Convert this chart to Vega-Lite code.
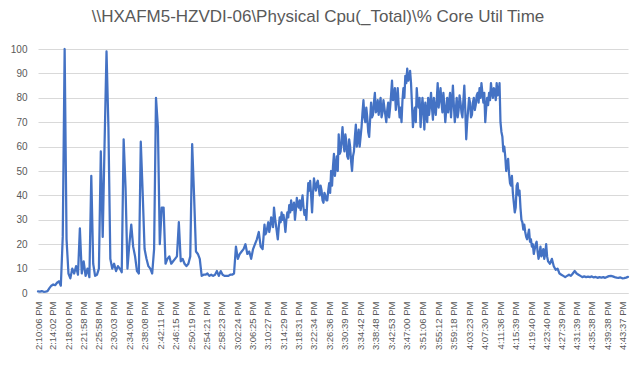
{
  "$schema": "https://vega.github.io/schema/vega-lite/v6.json",
  "width": 590,
  "height": 244,
  "autosize": {"type": "none"},
  "padding": {"left": 38, "top": 49, "right": 16, "bottom": 73},
  "background": "white",
  "config": {"view": {"stroke": null}},
  "title": {
    "text": "\\\\HXAFM5-HZVDI-06\\Physical Cpu(_Total)\\% Core Util Time",
    "font": "Liberation Sans",
    "fontSize": 17,
    "fontWeight": "normal",
    "color": "#595959",
    "anchor": "middle",
    "dx": -15,
    "offset": 18
  },
  "data": {
    "format": {"parse": {"t": "date:'%H:%M:%S'"}},
    "values": [
{"t":"14:10:06","v":0.7},{"t":"14:10:36","v":0.6},{"t":"14:11:06","v":0.8},{"t":"14:11:36","v":0.5},{"t":"14:12:06","v":0.6},{"t":"14:12:36","v":0.8},{"t":"14:13:06","v":2.0},{"t":"14:13:36","v":3.0},{"t":"14:14:06","v":3.5},{"t":"14:14:36","v":3.2},
{"t":"14:15:06","v":4.2},{"t":"14:15:36","v":4.8},{"t":"14:16:06","v":3.0},{"t":"14:16:36","v":23},{"t":"14:17:06","v":100},{"t":"14:17:36","v":22},{"t":"14:18:06","v":8},{"t":"14:18:36","v":6},{"t":"14:19:06","v":10},{"t":"14:19:36","v":8},
{"t":"14:20:06","v":11},{"t":"14:20:36","v":7.5},{"t":"14:21:06","v":26.5},{"t":"14:21:36","v":8},{"t":"14:22:06","v":13},{"t":"14:22:36","v":7},{"t":"14:23:06","v":10},{"t":"14:23:36","v":6.5},{"t":"14:24:06","v":48},{"t":"14:24:36","v":12},
{"t":"14:25:06","v":7},{"t":"14:25:36","v":7.5},{"t":"14:26:06","v":10},{"t":"14:26:36","v":58},{"t":"14:27:06","v":23},{"t":"14:27:36","v":62},{"t":"14:28:06","v":99},{"t":"14:28:36","v":68},{"t":"14:29:06","v":14},{"t":"14:29:36","v":10},
{"t":"14:30:06","v":12},{"t":"14:30:36","v":9},{"t":"14:31:06","v":11},{"t":"14:31:36","v":10},{"t":"14:32:06","v":8.5},{"t":"14:32:36","v":63},{"t":"14:33:06","v":43},{"t":"14:33:36","v":10},{"t":"14:34:06","v":20},{"t":"14:34:36","v":28},
{"t":"14:35:06","v":19},{"t":"14:35:36","v":15},{"t":"14:36:06","v":9},{"t":"14:36:36","v":8},{"t":"14:37:06","v":62},{"t":"14:37:36","v":41},{"t":"14:38:06","v":18},{"t":"14:38:36","v":14},{"t":"14:39:06","v":11},{"t":"14:39:36","v":10},
{"t":"14:40:06","v":8},{"t":"14:40:36","v":18},{"t":"14:41:06","v":80},{"t":"14:41:36","v":68},{"t":"14:42:06","v":20},{"t":"14:42:36","v":35},{"t":"14:43:06","v":35},{"t":"14:43:36","v":12},{"t":"14:44:06","v":14},{"t":"14:44:36","v":15},
{"t":"14:45:06","v":12},{"t":"14:45:36","v":13},{"t":"14:46:06","v":14},{"t":"14:46:36","v":15},{"t":"14:47:06","v":29},{"t":"14:47:36","v":13},{"t":"14:48:06","v":14},{"t":"14:48:36","v":12},{"t":"14:49:06","v":11},{"t":"14:49:36","v":12},
{"t":"14:50:06","v":15},{"t":"14:50:36","v":61},{"t":"14:51:06","v":40},{"t":"14:51:36","v":17},{"t":"14:52:06","v":16},{"t":"14:52:36","v":14},{"t":"14:53:06","v":7},{"t":"14:53:36","v":7.5},{"t":"14:54:06","v":7.5},{"t":"14:54:36","v":8},
{"t":"14:55:06","v":7},{"t":"14:55:36","v":7.5},{"t":"14:56:06","v":7},{"t":"14:56:36","v":7.5},{"t":"14:57:06","v":9},{"t":"14:57:36","v":7},{"t":"14:58:06","v":9},{"t":"14:58:36","v":7.5},{"t":"14:59:06","v":7},{"t":"14:59:36","v":7},
{"t":"15:00:06","v":7},{"t":"15:00:36","v":7.5},{"t":"15:01:06","v":7.5},{"t":"15:01:36","v":8},{"t":"15:02:06","v":19},{"t":"15:02:36","v":14},{"t":"15:03:06","v":16},{"t":"15:03:36","v":17},{"t":"15:04:06","v":18},{"t":"15:04:36","v":20},
{"t":"15:05:06","v":16},{"t":"15:05:36","v":17},{"t":"15:06:06","v":14},{"t":"15:06:36","v":18},{"t":"15:07:06","v":20},{"t":"15:07:36","v":22},{"t":"15:08:06","v":25},{"t":"15:08:36","v":19},{"t":"15:09:06","v":18},{"t":"15:09:36","v":28},
{"t":"15:09:51","v":24},{"t":"15:10:06","v":25},{"t":"15:10:21","v":27},{"t":"15:10:36","v":29},{"t":"15:10:51","v":25},{"t":"15:11:06","v":27},{"t":"15:11:21","v":31},{"t":"15:11:36","v":30},{"t":"15:11:51","v":27},{"t":"15:12:06","v":35},
{"t":"15:12:21","v":31},{"t":"15:12:36","v":28},{"t":"15:12:51","v":25},{"t":"15:13:06","v":22},{"t":"15:13:21","v":27},{"t":"15:13:36","v":31},{"t":"15:13:51","v":29},{"t":"15:14:06","v":33},{"t":"15:14:21","v":30},{"t":"15:14:36","v":32},
{"t":"15:14:51","v":29},{"t":"15:15:06","v":25},{"t":"15:15:21","v":30},{"t":"15:15:36","v":33},{"t":"15:15:51","v":31},{"t":"15:16:06","v":36},{"t":"15:16:21","v":33},{"t":"15:16:36","v":38},{"t":"15:16:51","v":34},{"t":"15:17:06","v":35},
{"t":"15:17:21","v":37},{"t":"15:17:36","v":30},{"t":"15:17:51","v":34},{"t":"15:18:06","v":39},{"t":"15:18:21","v":36},{"t":"15:18:36","v":35},{"t":"15:18:51","v":38},{"t":"15:19:06","v":34},{"t":"15:19:21","v":37},{"t":"15:19:36","v":40},
{"t":"15:19:51","v":35},{"t":"15:20:06","v":32},{"t":"15:20:21","v":34},{"t":"15:20:36","v":30},{"t":"15:20:51","v":38},{"t":"15:21:06","v":45},{"t":"15:21:21","v":42},{"t":"15:21:36","v":46},{"t":"15:21:51","v":40},{"t":"15:22:06","v":33},
{"t":"15:22:21","v":41},{"t":"15:22:36","v":47},{"t":"15:22:51","v":44},{"t":"15:23:06","v":42},{"t":"15:23:21","v":45},{"t":"15:23:36","v":46},{"t":"15:23:51","v":43},{"t":"15:24:06","v":40},{"t":"15:24:21","v":44},{"t":"15:24:36","v":42},
{"t":"15:24:51","v":38},{"t":"15:25:06","v":37},{"t":"15:25:21","v":41},{"t":"15:25:36","v":40},{"t":"15:25:51","v":38},{"t":"15:26:06","v":38},{"t":"15:26:21","v":42},{"t":"15:26:36","v":45},{"t":"15:26:51","v":41},{"t":"15:27:06","v":50},
{"t":"15:27:21","v":44},{"t":"15:27:36","v":52},{"t":"15:27:51","v":57},{"t":"15:28:06","v":48},{"t":"15:28:21","v":52},{"t":"15:28:36","v":56},{"t":"15:28:51","v":50},{"t":"15:29:06","v":65},{"t":"15:29:21","v":57},{"t":"15:29:36","v":58},
{"t":"15:29:51","v":63},{"t":"15:30:06","v":68},{"t":"15:30:21","v":61},{"t":"15:30:36","v":58},{"t":"15:30:51","v":65},{"t":"15:31:06","v":62},{"t":"15:31:21","v":56},{"t":"15:31:36","v":55},{"t":"15:31:51","v":63},{"t":"15:32:06","v":60},
{"t":"15:32:21","v":54},{"t":"15:32:36","v":50},{"t":"15:32:51","v":56},{"t":"15:33:06","v":58},{"t":"15:33:21","v":64},{"t":"15:33:36","v":69},{"t":"15:33:51","v":60},{"t":"15:34:06","v":63},{"t":"15:34:21","v":67},{"t":"15:34:36","v":60},
{"t":"15:34:51","v":64},{"t":"15:35:06","v":68},{"t":"15:35:21","v":74},{"t":"15:35:36","v":79},{"t":"15:35:51","v":72},{"t":"15:36:06","v":70},{"t":"15:36:21","v":76},{"t":"15:36:36","v":72},{"t":"15:36:51","v":66},{"t":"15:37:06","v":64},
{"t":"15:37:21","v":71},{"t":"15:37:36","v":78},{"t":"15:37:51","v":72},{"t":"15:38:06","v":73},{"t":"15:38:21","v":78},{"t":"15:38:36","v":82},{"t":"15:38:51","v":74},{"t":"15:39:06","v":75},{"t":"15:39:21","v":79},{"t":"15:39:36","v":73},
{"t":"15:39:51","v":77},{"t":"15:40:06","v":80},{"t":"15:40:21","v":72},{"t":"15:40:36","v":74},{"t":"15:40:51","v":79},{"t":"15:41:06","v":76},{"t":"15:41:21","v":73},{"t":"15:41:36","v":70},{"t":"15:41:51","v":75},{"t":"15:42:06","v":78},
{"t":"15:42:21","v":72},{"t":"15:42:36","v":76},{"t":"15:42:51","v":81},{"t":"15:43:06","v":87},{"t":"15:43:21","v":79},{"t":"15:43:36","v":80},{"t":"15:43:51","v":84},{"t":"15:44:06","v":75},{"t":"15:44:21","v":79},{"t":"15:44:36","v":84},
{"t":"15:44:51","v":77},{"t":"15:45:06","v":72},{"t":"15:45:21","v":76},{"t":"15:45:36","v":70},{"t":"15:45:51","v":79},{"t":"15:46:06","v":84},{"t":"15:46:21","v":80},{"t":"15:46:36","v":89},{"t":"15:46:51","v":86},{"t":"15:47:06","v":92},
{"t":"15:47:21","v":87},{"t":"15:47:36","v":88},{"t":"15:47:51","v":91},{"t":"15:48:06","v":86},{"t":"15:48:21","v":77},{"t":"15:48:36","v":68},{"t":"15:48:51","v":73},{"t":"15:49:06","v":76},{"t":"15:49:21","v":70},{"t":"15:49:36","v":84},
{"t":"15:49:51","v":78},{"t":"15:50:06","v":76},{"t":"15:50:21","v":80},{"t":"15:50:36","v":68},{"t":"15:50:51","v":74},{"t":"15:51:06","v":80},{"t":"15:51:21","v":75},{"t":"15:51:36","v":67},{"t":"15:51:51","v":78},{"t":"15:52:06","v":74},
{"t":"15:52:21","v":70},{"t":"15:52:36","v":80},{"t":"15:52:51","v":73},{"t":"15:53:06","v":77},{"t":"15:53:21","v":82},{"t":"15:53:36","v":76},{"t":"15:53:51","v":71},{"t":"15:54:06","v":80},{"t":"15:54:21","v":76},{"t":"15:54:36","v":73},
{"t":"15:54:51","v":79},{"t":"15:55:06","v":86},{"t":"15:55:21","v":76},{"t":"15:55:36","v":80},{"t":"15:55:51","v":84},{"t":"15:56:06","v":78},{"t":"15:56:21","v":74},{"t":"15:56:36","v":82},{"t":"15:56:51","v":77},{"t":"15:57:06","v":70},
{"t":"15:57:21","v":75},{"t":"15:57:36","v":80},{"t":"15:57:51","v":74},{"t":"15:58:06","v":78},{"t":"15:58:21","v":82},{"t":"15:58:36","v":72},{"t":"15:58:51","v":78},{"t":"15:59:06","v":85},{"t":"15:59:21","v":77},{"t":"15:59:36","v":70},
{"t":"15:59:51","v":75},{"t":"16:00:06","v":80},{"t":"16:00:21","v":72},{"t":"16:00:36","v":75},{"t":"16:00:51","v":81},{"t":"16:01:06","v":78},{"t":"16:01:21","v":74},{"t":"16:01:36","v":72},{"t":"16:01:51","v":79},{"t":"16:02:06","v":85},
{"t":"16:02:21","v":75},{"t":"16:02:36","v":63},{"t":"16:02:51","v":70},{"t":"16:03:06","v":75},{"t":"16:03:21","v":80},{"t":"16:03:36","v":78},{"t":"16:03:51","v":72},{"t":"16:04:06","v":73},{"t":"16:04:21","v":78},{"t":"16:04:36","v":80},
{"t":"16:04:51","v":75},{"t":"16:05:06","v":77},{"t":"16:05:21","v":81},{"t":"16:05:36","v":82},{"t":"16:05:51","v":78},{"t":"16:06:06","v":84},{"t":"16:06:21","v":80},{"t":"16:06:36","v":86},{"t":"16:06:51","v":82},{"t":"16:07:06","v":78},
{"t":"16:07:21","v":82},{"t":"16:07:36","v":70},{"t":"16:07:51","v":76},{"t":"16:08:06","v":80},{"t":"16:08:21","v":77},{"t":"16:08:36","v":82},{"t":"16:08:51","v":79},{"t":"16:09:06","v":86},{"t":"16:09:21","v":82},{"t":"16:09:36","v":80},
{"t":"16:09:51","v":84},{"t":"16:10:06","v":83},{"t":"16:10:21","v":79},{"t":"16:10:36","v":86},{"t":"16:10:51","v":81},{"t":"16:11:06","v":82},{"t":"16:11:21","v":86},{"t":"16:11:36","v":70},{"t":"16:11:51","v":66},{"t":"16:12:06","v":64},
{"t":"16:12:21","v":58},{"t":"16:12:36","v":60},{"t":"16:12:51","v":56},{"t":"16:13:06","v":50},{"t":"16:13:21","v":53},{"t":"16:13:36","v":55},{"t":"16:13:51","v":49},{"t":"16:14:06","v":45},{"t":"16:14:21","v":44},{"t":"16:14:36","v":48},
{"t":"16:14:51","v":41},{"t":"16:15:06","v":37},{"t":"16:15:21","v":33},{"t":"16:15:36","v":35},{"t":"16:15:51","v":44},{"t":"16:16:06","v":45},{"t":"16:16:21","v":40},{"t":"16:16:36","v":42},{"t":"16:16:51","v":35},{"t":"16:17:06","v":30},
{"t":"16:17:21","v":29},{"t":"16:17:36","v":26},{"t":"16:17:51","v":28},{"t":"16:18:06","v":25},{"t":"16:18:21","v":23},{"t":"16:18:36","v":22},{"t":"16:18:51","v":24},{"t":"16:19:06","v":26},{"t":"16:19:21","v":21},{"t":"16:19:36","v":22},
{"t":"16:19:51","v":19},{"t":"16:20:06","v":20},{"t":"16:20:21","v":16},{"t":"16:20:36","v":18},{"t":"16:20:51","v":20},{"t":"16:21:06","v":21},{"t":"16:21:21","v":17},{"t":"16:21:36","v":14},{"t":"16:21:51","v":16},{"t":"16:22:06","v":19},
{"t":"16:22:21","v":15},{"t":"16:22:36","v":16},{"t":"16:22:51","v":18},{"t":"16:23:06","v":14},{"t":"16:23:21","v":16},{"t":"16:23:36","v":20},{"t":"16:23:51","v":15},{"t":"16:24:06","v":13},{"t":"16:24:36","v":12},
{"t":"16:25:06","v":14},{"t":"16:25:36","v":11},{"t":"16:26:06","v":9.5},{"t":"16:26:36","v":10},{"t":"16:27:06","v":8},{"t":"16:27:36","v":7.5},{"t":"16:28:06","v":7},{"t":"16:28:36","v":6.5},{"t":"16:29:06","v":7},{"t":"16:29:36","v":7.5},
{"t":"16:30:06","v":7},{"t":"16:30:36","v":8},{"t":"16:31:06","v":9},{"t":"16:31:36","v":8},{"t":"16:32:06","v":7.5},{"t":"16:32:36","v":7},{"t":"16:33:06","v":6.5},{"t":"16:33:36","v":6.8},{"t":"16:34:06","v":6.5},{"t":"16:34:36","v":6.7},
{"t":"16:35:06","v":6.5},{"t":"16:35:36","v":6.8},{"t":"16:36:06","v":6.4},{"t":"16:36:36","v":6.6},{"t":"16:37:06","v":6.2},{"t":"16:37:36","v":6.5},{"t":"16:38:06","v":6.3},{"t":"16:38:36","v":6.5},{"t":"16:39:06","v":6.2},{"t":"16:39:36","v":6.6},
{"t":"16:40:06","v":6.9},{"t":"16:40:36","v":7},{"t":"16:41:06","v":6.8},{"t":"16:41:36","v":6.5},{"t":"16:42:06","v":6.3},{"t":"16:42:36","v":6.2},{"t":"16:43:06","v":6.4},{"t":"16:43:36","v":6.0},{"t":"16:44:06","v":6.1},{"t":"16:44:36","v":6.3},
{"t":"16:45:06","v":6.6}
    ]
  },
  "mark": {"type": "line", "color": "#4472C4", "strokeWidth": 2.25, "strokeJoin": "round", "strokeCap": "round"},
  "encoding": {
    "x": {
      "field": "t",
      "type": "temporal",
      "timeUnit": "hoursminutesseconds",
      "scale": {
        "nice": false,
        "domain": [{"hours": 14, "minutes": 10, "seconds": 6}, {"hours": 16, "minutes": 45, "seconds": 6}]
      },
      "axis": {
        "title": null,
        "format": "%-I:%M:%S %p",
        "labelAngle": -90,
        "labelFont": "Liberation Sans",
        "labelFontSize": 9.5,
        "labelColor": "#595959",
        "labelPadding": 8,
        "labelOverlap": false,
        "labelFlush": false,
        "labelBound": false,
        "ticks": false,
        "grid": false,
        "domainColor": "#d9d9d9",
        "domainWidth": 1,
        "values": [
          {"hours":14,"minutes":10,"seconds":6},{"hours":14,"minutes":14,"seconds":2},{"hours":14,"minutes":18,"seconds":0},{"hours":14,"minutes":21,"seconds":58},{"hours":14,"minutes":25,"seconds":58},
          {"hours":14,"minutes":30,"seconds":3},{"hours":14,"minutes":34,"seconds":6},{"hours":14,"minutes":38,"seconds":8},{"hours":14,"minutes":42,"seconds":11},{"hours":14,"minutes":46,"seconds":15},
          {"hours":14,"minutes":50,"seconds":19},{"hours":14,"minutes":54,"seconds":21},{"hours":14,"minutes":58,"seconds":23},{"hours":15,"minutes":2,"seconds":24},{"hours":15,"minutes":6,"seconds":25},
          {"hours":15,"minutes":10,"seconds":27},{"hours":15,"minutes":14,"seconds":29},{"hours":15,"minutes":18,"seconds":31},{"hours":15,"minutes":22,"seconds":34},{"hours":15,"minutes":26,"seconds":36},
          {"hours":15,"minutes":30,"seconds":39},{"hours":15,"minutes":34,"seconds":42},{"hours":15,"minutes":38,"seconds":48},{"hours":15,"minutes":42,"seconds":53},{"hours":15,"minutes":47,"seconds":0},
          {"hours":15,"minutes":51,"seconds":6},{"hours":15,"minutes":55,"seconds":12},{"hours":15,"minutes":59,"seconds":18},{"hours":16,"minutes":3,"seconds":23},{"hours":16,"minutes":7,"seconds":30},
          {"hours":16,"minutes":11,"seconds":36},{"hours":16,"minutes":15,"seconds":39},{"hours":16,"minutes":19,"seconds":40},{"hours":16,"minutes":23,"seconds":40},{"hours":16,"minutes":27,"seconds":39},
          {"hours":16,"minutes":31,"seconds":39},{"hours":16,"minutes":35,"seconds":38},{"hours":16,"minutes":39,"seconds":38},{"hours":16,"minutes":43,"seconds":37}
        ]
      }
    },
    "y": {
      "field": "v",
      "type": "quantitative",
      "scale": {"domain": [0, 100], "nice": false},
      "axis": {
        "title": null,
        "values": [0, 10, 20, 30, 40, 50, 60, 70, 80, 90, 100],
        "labelFont": "Liberation Sans",
        "labelFontSize": 10,
        "labelColor": "#595959",
        "labelPadding": 11,
        "ticks": false,
        "domain": false,
        "gridColor": "#d9d9d9",
        "gridWidth": 1
      }
    }
  }
}
